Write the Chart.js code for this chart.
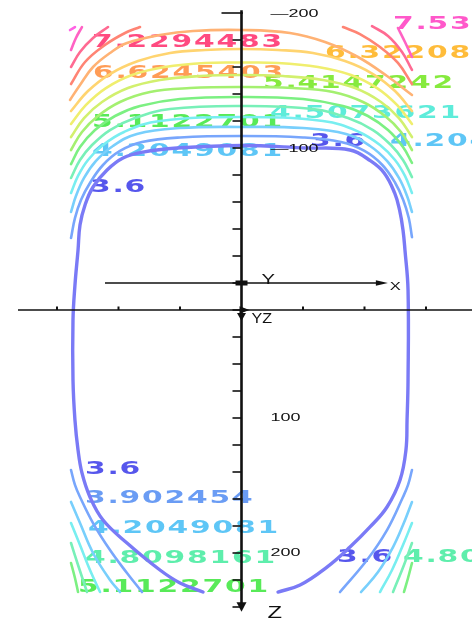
<!DOCTYPE html>
<html>
<head>
<meta charset="utf-8">
<script src="https://cdn.jsdelivr.net/npm/chart.js@4"></script>
<style>
  html, body { margin: 0; padding: 0; background: #ffffff; overflow: hidden; }
  #plot { display: block; }
</style>
</head>
<body>
<canvas id="plot" width="472" height="619"></canvas>
<script>
// Iso-value levels of the field (section X–Z plane)
const levels = [3.6, 3.902454, 4.2049081, 4.5073621, 4.8098161, 5.1122701, 5.4147242,
                5.7171782, 6.0196322, 6.3220862, 6.6245403, 6.9269943, 7.2294483,
                7.5319024, 7.8343564];

// Contour traces, [x, z] pairs, one array per visible piece of each level
const iso360 = [[-31.3,228.9],[-50,222.2],[-66.3,212.6],[-93.1,192.6],[-112.6,175.6],[-123.2,158.5],
  [-129.7,140.7],[-132.9,123.7],[-135.4,101.5],[-137,71.9],[-137,27.4],[-135.4,1.5],[-132.9,-24.4],
  [-131.3,-43],[-127.2,-57.8],[-120.7,-71.1],[-109.3,-83.7],[-96.3,-92.6],[-80.1,-97],[-52.4,-100],
  [0,-101.9],[52.4,-100],[88.2,-98.5],[105,-90.4],[116,-81.5],[124.5,-66.7],[128.5,-54.1],
  [131.3,-39.3],[132.9,-24.4],[135.4,5.2],[135.4,71.9],[134.6,101.5],[133.7,123.7],[128.9,145.9],
  [118.3,165.9],[104.5,180.7],[88.2,195.6],[69.5,210.4],[47.6,223.7],[29.7,228.9]];

const iso390Top = [[-138.6,-33.3],[-135.4,-48.1],[-130.5,-61.5],[-123.2,-74.1],[-112.6,-87.4],
  [-98.8,-97.8],[-80.9,-104.4],[-50,-107.8],[0,-108.9],[50,-107.8],[80.9,-104.4],[100,-97.8],
  [114.5,-87.4],[125,-74.1],[131.5,-61.5],[136,-48.1],[138.6,-34]];
const iso390BL = [[-138.6,138.5],[-135.4,149.6],[-131.3,158.5],[-120.7,177.8],[-106.9,197.8],[-93.1,214.8],[-80.9,228.9]];
const iso390BR = [[138.6,138.5],[135.4,149.6],[131.3,158.5],[118.3,183],[102,205.2],[80.1,228.9]];

const iso420Top = [[-138.6,-52.6],[-134.6,-64.4],[-128,-77.8],[-118.3,-90.4],[-104.5,-101.5],
  [-85,-110.4],[-50,-114.8],[0,-115.6],[50,-114.8],[85,-110.4],[104.5,-101.5],[118.3,-90.4],
  [128,-77.8],[134.6,-64.4],[138.6,-52.6]];
const iso420BL = [[-138.6,162.2],[-131.3,177.8],[-120.7,200],[-106.9,220],[-98.8,228.9]];
const iso420BR = [[138.6,162.2],[131.3,179.3],[123.2,195.6],[111,214.1],[97.2,228.9]];

const iso451Top = [[-138.6,-66.7],[-132.9,-79.3],[-124.8,-91.1],[-112.6,-102.2],[-95.5,-111.9],
  [-66.3,-120],[0,-123],[66.3,-120],[95.5,-111.9],[112.6,-102.2],[124.8,-91.1],[132.9,-79.3],[138.6,-66.7]];
const iso451BL = [[-138.6,177.8],[-131.3,194.1],[-123.2,212.6],[-115,228.9]];
const iso451BR = [[138.6,177.8],[131.3,194.1],[122.4,212.6],[112.6,228.9]];

const iso481Top = [[-138.6,-77.8],[-131.3,-91.1],[-121.5,-102.2],[-106.9,-113.3],[-86.6,-122.2],
  [-58.1,-128.9],[0,-131.1],[58.1,-128.9],[86.6,-122.2],[106.9,-113.3],[121.5,-102.2],[131.3,-91.1],[138.6,-78.5]];
const iso481BL = [[-138.6,192.6],[-132.9,208.9],[-125.6,228.9]];
const iso481BR = [[138.6,192.6],[132.1,208.9],[123.2,228.9]];

const iso511Top = [[-138.6,-88.1],[-131.3,-100.7],[-119.1,-113.3],[-102.8,-123.7],[-82.5,-131.1],
  [-50,-136.3],[0,-137.8],[50,-136.3],[82.5,-131.1],[102.8,-123.7],[119.1,-113.3],[131.3,-100.7],[138.6,-88.9]];
const iso511BL = [[-138.6,207.4],[-135.4,218.5],[-132.9,228.9]];
const iso511BR = [[138.6,207.4],[135.4,218.5],[132.1,228.9]];

const iso541Top = [[-138.6,-98.5],[-129.7,-111.9],[-116.7,-123.7],[-98.8,-134.1],[-74.4,-141.5],
  [-41.9,-144.4],[0,-145.2],[41.9,-144.4],[74.4,-141.5],[98.8,-134.1],[116.7,-123.7],[129.7,-111.9],[138.6,-98.5]];

const iso572Top = [[-138.6,-108.1],[-128,-122.2],[-113.4,-134.1],[-92.3,-144.4],[-66.3,-150.4],
  [-33.7,-153.3],[0,-154.1],[33.7,-153.3],[66.3,-150.4],[92.3,-144.4],[113.4,-134.1],[128,-122.2],[138.6,-108.1]];

const iso602Top = [[-138.6,-117.8],[-126.4,-131.9],[-110.2,-144.4],[-89,-154.1],[-62.2,-160],
  [-29.7,-163],[0,-163.3],[29.7,-163],[62.2,-160],[89,-154.1],[110.2,-144.4],[126.4,-131.9],[138.6,-117.8]];

const iso632Top = [[-138.6,-127.4],[-124.8,-142.2],[-106.9,-154.8],[-84.1,-164.4],[-58.1,-170.4],
  [-29.7,-172.6],[0,-173.3],[29.7,-172.6],[58.1,-170.4],[84.1,-164.4],[106.9,-154.8],[124.8,-142.2],[138.6,-127.4]];

const iso662Top = [[-139.4,-135.6],[-131.3,-146.7],[-120.7,-160],[-106.9,-170.4],[-93.1,-177.8],
  [-66.3,-183.7],[-39.4,-186.7],[0,-187.4],[39.4,-185.2],[67.9,-178.5],[94.7,-167.4],[118.3,-153.3],[138.6,-139.3]];

const iso693L = [[-138.6,-147.4],[-127.2,-163.7],[-111,-176.3],[-94.7,-185.2],[-82.5,-189.6]];
const iso693R = [[82.5,-189.6],[96.3,-184.4],[112.6,-174.8],[127.2,-163],[138.6,-147.4]];

const iso723L = [[-138.6,-160],[-131.3,-171.1],[-120.7,-181.5],[-108.5,-189.6]];
const iso723R = [[106.1,-190.3],[119.1,-183],[130.5,-171.1],[138.6,-157.8]];

const iso753L = [[-138.6,-172.6],[-134.6,-181.5],[-129.7,-189.6]];
const iso753R = [[127.2,-188.9],[132.9,-178.5],[138.6,-167.4]];

const iso783L = [[-139.4,-187.4],[-135.4,-189.6]];

// Which level each trace belongs to
const traces = [
  [0, iso360],
  [1, iso390Top], [1, iso390BL], [1, iso390BR],
  [2, iso420Top], [2, iso420BL], [2, iso420BR],
  [3, iso451Top], [3, iso451BL], [3, iso451BR],
  [4, iso481Top], [4, iso481BL], [4, iso481BR],
  [5, iso511Top], [5, iso511BL], [5, iso511BR],
  [6, iso541Top], [7, iso572Top], [8, iso602Top], [9, iso632Top], [10, iso662Top],
  [11, iso693L], [11, iso693R],
  [12, iso723L], [12, iso723R],
  [13, iso753L], [13, iso753R],
  [14, iso783L]
];

// Contour value labels: level index and anchor (x, z) at the start of the text baseline
const labelLevel = [12, 10, 5, 2, 0, 13, 9, 6, 3, 0, 2, 0, 1, 2, 4, 5, 0, 4];
const labelX = [-121.5, -120.7, -121.5, -121.5, -123.2, 123.2, 67.9, 17.5, 23.2, 55.7, 120.7,
                -127.2, -127.2, -124.8, -127.2, -132.9, 77.6, 131.3];
const labelZ = [-174.8, -151.9, -115.6, -94.1, -67.4, -188.1, -166.7, -144.4, -122.2, -101.5, -101.5,
                141.5, 163, 185.2, 207.4, 228.9, 206.7, 206.7];

// Axis ticks
const zTicks = [-200,-180,-160,-140,-120,-100,-80,-60,-40,-20,0,20,40,60,80,100,120,140,160,180,200,220,240];
const zTickLabels = [-200, -100, 100, 200];
const xTicks = [-150, -100, -50, 50, 100, 150];

// Colours
const lineColors = ['#7a7af6', '#78a6fc', '#78cffc', '#78eef0', '#78f0b8', '#7cf082', '#a4f070',
                    '#d2f06e', '#f0ee6e', '#ffd470', '#ffb274', '#ff8474', '#ff6a92', '#ff62c4', '#ff62e4'];
const labelColors = ['#5656ec', '#6a9cf4', '#5ec6f6', '#5eecda', '#5eeeac', '#58ea58', '#86ea3e',
                     '#c4ec40', '#eeea40', '#ffbc3a', '#ff9c56', '#ff7a60', '#ff4a80', '#ff58ca', '#ff5ce0'];

const datasets = traces.map(([lvl, pts]) => ({
  data: pts.map(([x, y]) => ({ x, y })),
  showLine: true,
  borderColor: lineColors[lvl],
  borderWidth: lvl === 0 ? 3.4 : 2.6,
  pointRadius: 0,
  fill: false,
  tension: 0.4
}));

// wide, loosely spaced lettering used for the contour values
function wideText(ctx, str, px, py) {
  let cx = px;
  for (const ch of str) {
    ctx.save();
    ctx.translate(cx, py);
    ctx.scale(1.75, 1);
    ctx.fillText(ch, 0, 0);
    ctx.restore();
    cx += ch === '.' ? 12 : 22.5;
  }
}

function stretched(ctx, str, px, py, sx) {
  ctx.save();
  ctx.translate(px, py);
  ctx.scale(sx, 1);
  ctx.fillText(str, 0, 0);
  ctx.restore();
}

const contourLabels = {
  id: 'contourLabels',
  beforeDatasetsDraw(chart) {
    const { ctx, scales: { x, y } } = chart;
    ctx.save();
    ctx.font = 'bold 17px "DejaVu Sans"';
    ctx.textBaseline = 'alphabetic';
    labelLevel.forEach((lvl, i) => {
      ctx.fillStyle = labelColors[lvl];
      wideText(ctx, String(levels[lvl]), x.getPixelForValue(labelX[i]), y.getPixelForValue(labelZ[i]));
    });
    ctx.restore();
  }
};

const axesFrame = {
  id: 'axesFrame',
  afterDatasetsDraw(chart) {
    const { ctx, scales: { x, y } } = chart;
    const ax = x.getPixelForValue(0);
    const oy = y.getPixelForValue(0);
    const hy = y.getPixelForValue(20);
    ctx.save();
    ctx.strokeStyle = '#111';
    ctx.fillStyle = '#111';

    // horizontal reference line with small ticks
    ctx.lineWidth = 1.3;
    ctx.beginPath();
    ctx.moveTo(x.getPixelForValue(-181.7), hy);
    ctx.lineTo(x.getPixelForValue(187.4), hy);
    ctx.stroke();
    ctx.lineWidth = 2;
    xTicks.forEach(v => {
      const px = x.getPixelForValue(v);
      ctx.beginPath(); ctx.moveTo(px, hy - 3.5); ctx.lineTo(px, hy); ctx.stroke();
    });

    // local X arrow through the origin
    ctx.lineWidth = 1.3;
    const x0 = x.getPixelForValue(-111), x1 = x.getPixelForValue(119);
    ctx.beginPath(); ctx.moveTo(x0, oy); ctx.lineTo(x1 - 8, oy); ctx.stroke();
    ctx.beginPath(); ctx.moveTo(x1, oy); ctx.lineTo(x1 - 12, oy - 2.8); ctx.lineTo(x1 - 12, oy + 2.8); ctx.closePath(); ctx.fill();
    ctx.fillRect(ax - 6, oy - 2.5, 12, 5);

    // vertical Z axis
    ctx.lineWidth = 2.6;
    const top = y.getPixelForValue(-202);
    const bot = y.getPixelForValue(238);
    ctx.beginPath(); ctx.moveTo(ax, top); ctx.lineTo(ax, bot); ctx.stroke();
    ctx.beginPath();
    ctx.moveTo(ax - 5, bot - 2); ctx.lineTo(ax + 5, bot - 2); ctx.lineTo(ax, y.getPixelForValue(243.5));
    ctx.closePath(); ctx.fill();
    ctx.lineWidth = 1.6;
    zTicks.forEach(v => {
      const py = y.getPixelForValue(v);
      const len = v === -200 ? 20 : 9;
      ctx.beginPath(); ctx.moveTo(ax - len, py); ctx.lineTo(ax + (v === -200 ? 1.5 : 0), py); ctx.stroke();
    });

    // small arrowheads where the reference line meets the Z axis
    ctx.beginPath(); ctx.moveTo(ax - 2, hy - 3.8); ctx.lineTo(ax + 8, hy); ctx.lineTo(ax - 2, hy + 3.8); ctx.closePath(); ctx.fill();
    ctx.beginPath(); ctx.moveTo(ax - 4.5, hy + 3); ctx.lineTo(ax + 4.5, hy + 3); ctx.lineTo(ax, hy + 11); ctx.closePath(); ctx.fill();

    // tick labels
    ctx.font = '10px "Liberation Sans"';
    zTickLabels.forEach(v => {
      const txt = v < 0 ? '\u2014' + Math.abs(v) : String(v);
      stretched(ctx, txt, ax + 29, y.getPixelForValue(v) + 3.5, 1.8);
    });

    // axis names
    ctx.font = '15px "Liberation Sans"';
    stretched(ctx, 'Y', ax + 20, oy + 1, 1.35);
    ctx.font = '11px "Liberation Sans"';
    stretched(ctx, 'X', x1 + 2, oy + 7, 1.5);
    ctx.font = '14px "Liberation Sans"';
    stretched(ctx, 'YZ', ax + 10, hy + 13, 1.15);
    ctx.font = '17px "Liberation Sans"';
    stretched(ctx, 'Z', ax + 26, y.getPixelForValue(248), 1.4);
    ctx.restore();
  }
};

new Chart(document.getElementById('plot'), {
  type: 'scatter',
  data: { datasets },
  options: {
    responsive: false,
    animation: false,
    devicePixelRatio: 1,
    events: [],
    layout: { padding: 0 },
    plugins: { legend: { display: false }, tooltip: { enabled: false } },
    elements: { line: { borderCapStyle: 'round', borderJoinStyle: 'round' } },
    scales: {
      x: { type: 'linear', min: -196.34, max: 187.4, display: false },
      y: { type: 'linear', min: -209.63, max: 248.89, reverse: true, display: false }
    }
  },
  plugins: [contourLabels, axesFrame]
});
</script>
</body>
</html>
